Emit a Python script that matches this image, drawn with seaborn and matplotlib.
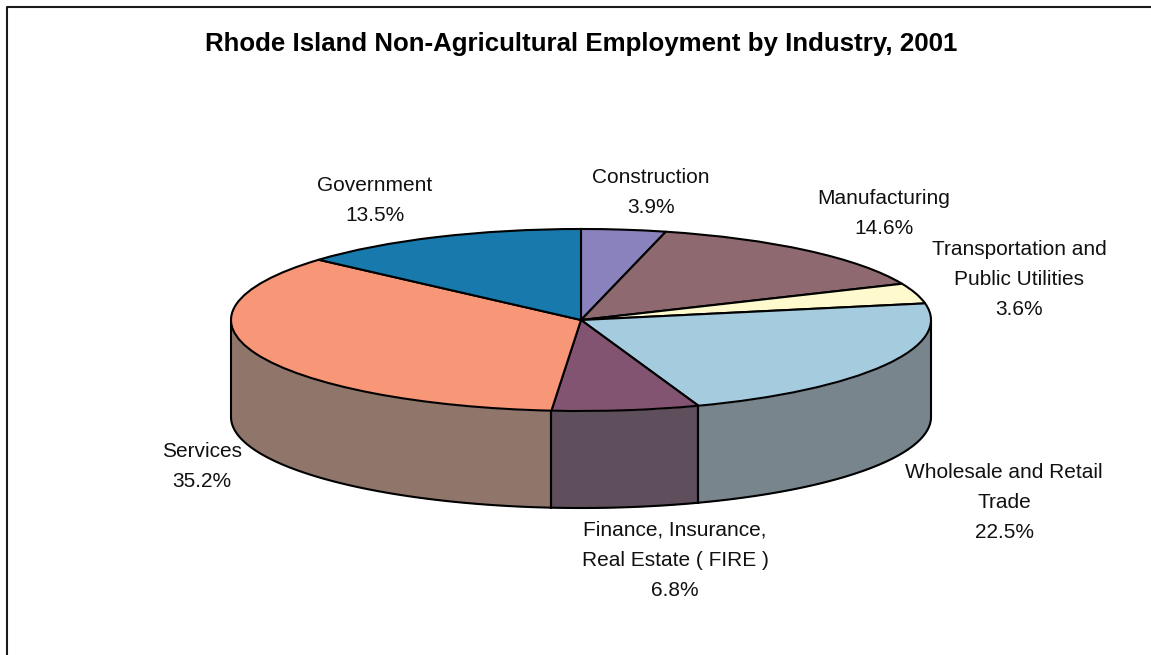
import numpy as np
import matplotlib.pyplot as plt
import seaborn as sns

W, H = 1151, 655

industries = ["Construction", "Manufacturing", "Transportation and\nPublic Utilities",
              "Wholesale and Retail\nTrade", "Finance, Insurance,\nReal Estate ( FIRE )",
              "Services", "Government"]
shares = [3.9, 14.6, 3.6, 22.5, 6.8, 35.2, 13.5]
top_colors = ["#8a82bd", "#8f6970", "#fffacd", "#a4cbde", "#825472", "#f89678", "#187aac"]
wall_colors = ["#5d5a78", "#66525a", "#a09f88", "#78858c", "#5f4e5c", "#90766a", "#1c5a7a"]

# label anchor in image pixels
label_x = [651, 884, 1019, 1004, 675, 202, 375]
label_y = [168, 189, 240, 463, 521, 442, 176]

# pie geometry in image pixels
CX, CY, RX, RY, DEPTH = 581, 320, 350, 91, 97
LINE = 1.5

sns.set_theme(style="white")
plt.rcParams["font.family"] = ["Liberation Sans", "DejaVu Sans"]

fig, ax = plt.subplots(figsize=(W / 100, H / 100), dpi=100)
fig.subplots_adjust(0, 0, 1, 1)

wedges, _ = ax.pie(shares, colors=sns.color_palette(top_colors), startangle=90, counterclock=False,
                   wedgeprops=dict(edgecolor="black", linewidth=LINE, zorder=3))

# squash the round pie into the tilted disc
ax.set_aspect("auto")
ax.set_xlim(-CX / RX, (W - CX) / RX)
ax.set_ylim((CY - H) / RY, CY / RY)

# side walls of the slices on the front half
drop = DEPTH / RY
for share_start, share, color in zip(np.cumsum([0] + shares[:-1]), shares, wall_colors):
    a0 = share_start / sum(shares) * 360
    a1 = (share_start + share) / sum(shares) * 360
    a0, a1 = max(a0, 90), min(a1, 270)
    if a1 <= a0:
        continue
    t = np.radians(np.linspace(a0, a1, 80))
    x, y = np.sin(t), np.cos(t)
    ax.fill_between(x, y, y - drop, color=color, linewidth=0, zorder=1)
    ax.plot(x, y - drop, color="black", lw=LINE, zorder=2)
    for end in (0, -1):
        ax.plot([x[end], x[end]], [y[end], y[end] - drop], color="black", lw=LINE, zorder=2)

# the frame only shows on the left and top in the source image
frame_x = [6.5 / W, 6.5 / W, 1]
frame_y = [0, 1 - 6.5 / H, 1 - 6.5 / H]
fig.add_artist(plt.Line2D(frame_x, frame_y, color="#1a1a1a", lw=1.5, transform=fig.transFigure))

fig.text(581 / W, 1 - 44 / H, "Rhode Island Non-Agricultural Employment by Industry, 2001",
         ha="center", va="center", fontsize=18.6, fontweight="bold", color="black")

for name, share, lx, ly in zip(industries, shares, label_x, label_y):
    fig.text(lx / W, 1 - ly / H, f"{name}\n{share:.1f}%", ha="center", va="top",
             fontsize=15, linespacing=1.74, color="#111111")

fig.savefig("out.png", dpi=100)
